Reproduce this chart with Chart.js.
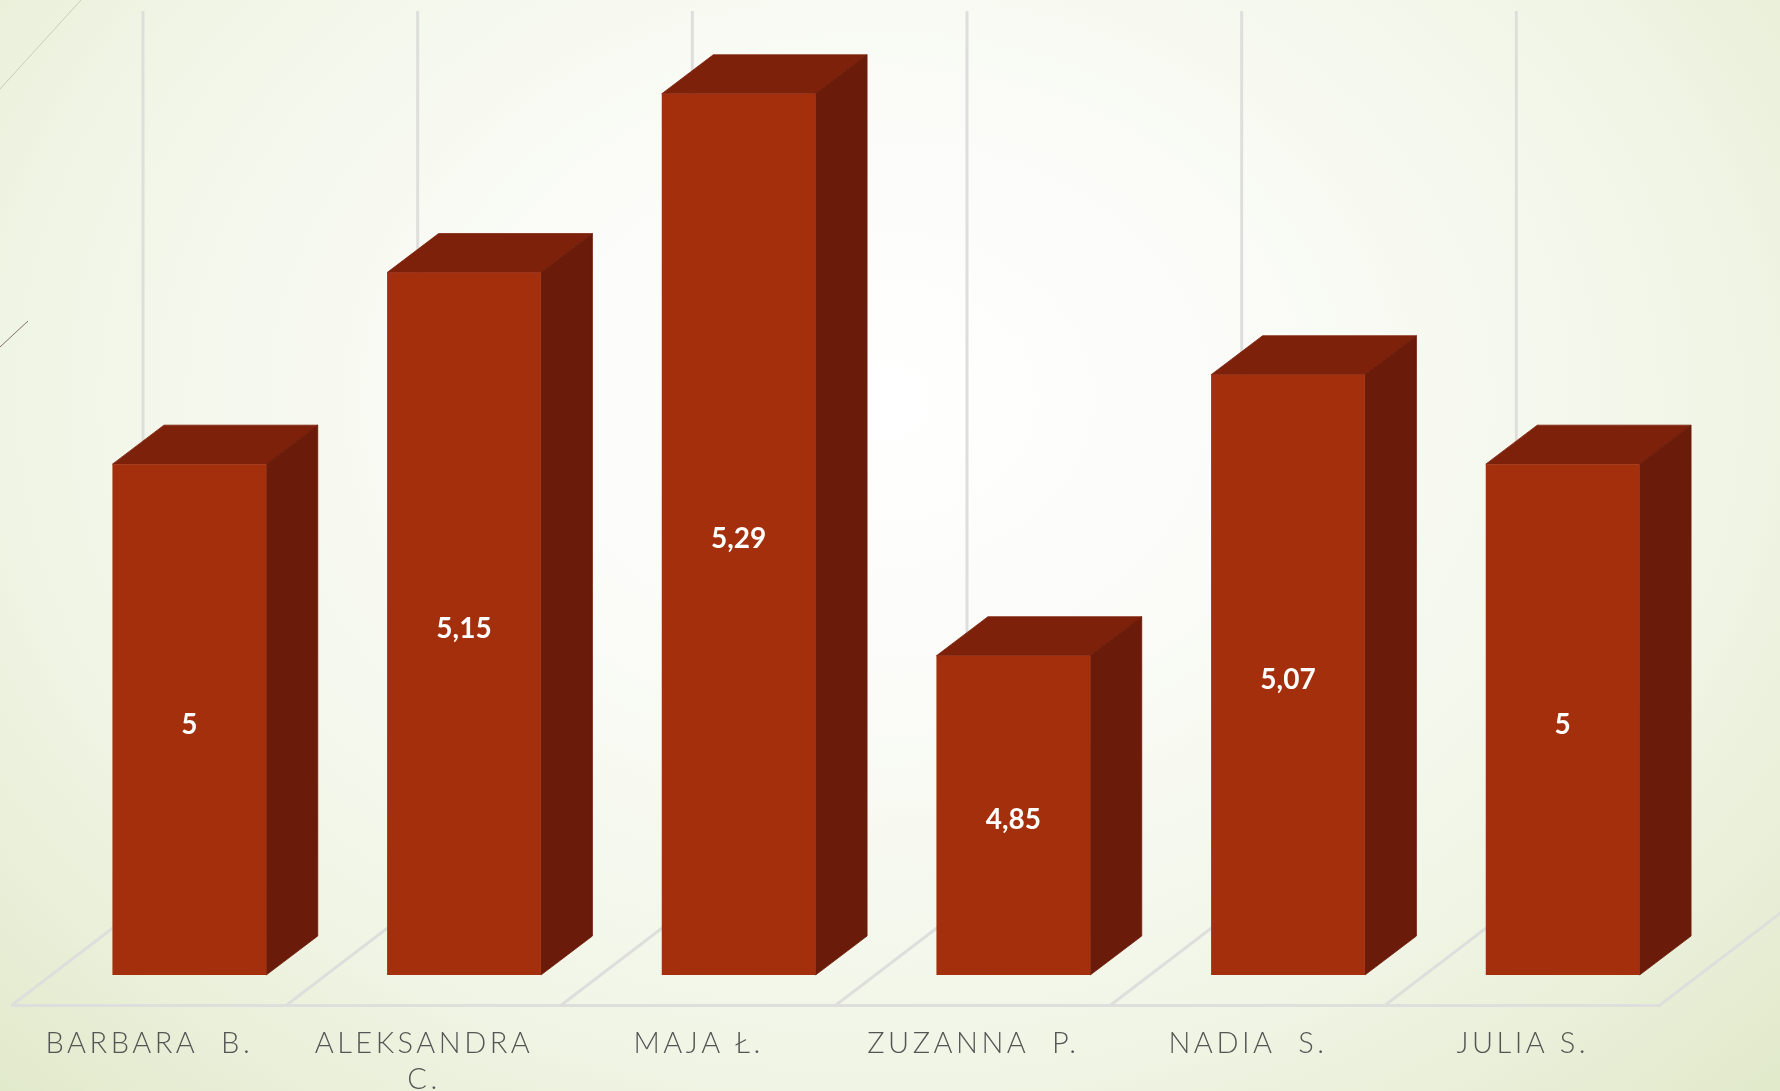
<!DOCTYPE html>
<html>
<head>
<meta charset="utf-8">
<style>
  html, body { margin: 0; padding: 0; width: 1780px; height: 1091px; overflow: hidden; }
  body { background: radial-gradient(ellipse 1240px 970px at 880px 400px, #ffffff 0%, #fbfcf8 30%, #f1f5e6 68%, #e2eacc 100%); }
  canvas { display: block; }
</style>
<script src="https://cdn.jsdelivr.net/npm/chart.js@4"></script>
</head>
<body>
<canvas id="myChart" width="1780" height="1091"></canvas>
<script>
var categories = ['BARBARA  B.', ['ALEKSANDRA', 'C.'], 'MAJA Ł.', 'ZUZANNA  P.', 'NADIA  S.', 'JULIA S.'];
var values = [5, 5.15, 5.29, 4.85, 5.07, 5];
var axisRange = [4.6, 5.3];

// fake 3d: how far the box and the floor run back into the picture
var boxDepth = { x: 51.5, y: 39 };
var frontGap = { x: 40, y: 30 };
var floorDepth = { x: 131, y: 100 };

var gridColor = '#dedfdc';

// closes the hairline seam between two faces
function fillFace(ctx, color) {
  ctx.fillStyle = color;
  ctx.strokeStyle = color;
  ctx.lineWidth = 0.8;
  ctx.fill();
  ctx.stroke();
}

var fake3d = {
  id: 'fake3d',
  beforeDraw: function(chart) {
    var ctx = chart.ctx;
    ctx.letterSpacing = '3.5px';

    // the two thin corner lines from the slide background
    ctx.save();
    ctx.lineWidth = 1;
    ctx.strokeStyle = '#cbcbb6';
    ctx.beginPath(); ctx.moveTo(0, 89); ctx.lineTo(81, 0); ctx.stroke();
    ctx.strokeStyle = '#7d7360';
    ctx.beginPath(); ctx.moveTo(0, 347); ctx.lineTo(28, 321); ctx.stroke();
    ctx.restore();
  },
  beforeDatasetsDraw: function(chart) {
    var ctx = chart.ctx;
    var x = chart.scales.x, y = chart.scales.y;
    var band = x.width / categories.length;
    ctx.letterSpacing = '0px';

    ctx.save();
    ctx.strokeStyle = gridColor;
    ctx.lineWidth = 3;
    for (var i = 0; i <= categories.length; i++) {
      var px = x.left + i * band;
      ctx.beginPath();
      ctx.moveTo(px, y.bottom);
      ctx.lineTo(px + floorDepth.x, y.bottom - floorDepth.y);
      ctx.lineTo(px + floorDepth.x, y.top - floorDepth.y);
      ctx.stroke();
    }
    ctx.restore();

    // bars sit part way back on the floor, library draws the front face after this
    ctx.save();
    ctx.translate(frontGap.x, -frontGap.y);
    chart.getDatasetMeta(0).data.forEach(function(bar) {
      var l = bar.x - bar.width / 2, r = bar.x + bar.width / 2;
      ctx.beginPath();
      ctx.moveTo(l, bar.y);
      ctx.lineTo(l + boxDepth.x, bar.y - boxDepth.y);
      ctx.lineTo(r + boxDepth.x, bar.y - boxDepth.y);
      ctx.lineTo(r, bar.y);
      ctx.closePath();
      fillFace(ctx, '#7e210b');
      ctx.beginPath();
      ctx.moveTo(r, bar.y);
      ctx.lineTo(r + boxDepth.x, bar.y - boxDepth.y);
      ctx.lineTo(r + boxDepth.x, bar.base - boxDepth.y);
      ctx.lineTo(r, bar.base);
      ctx.closePath();
      fillFace(ctx, '#6a1b09');
    });
  },
  afterDatasetsDraw: function(chart) {
    var ctx = chart.ctx;
    ctx.restore();

    ctx.save();
    ctx.fillStyle = '#ffffff';
    ctx.font = 'bold 28px Lato';
    ctx.textAlign = 'center';
    ctx.textBaseline = 'middle';
    chart.getDatasetMeta(0).data.forEach(function(bar, i) {
      var label = String(values[i]).replace('.', ',');
      ctx.fillText(label, bar.x + frontGap.x, (bar.y + bar.base) / 2 - frontGap.y + 5);
    });
    ctx.restore();
  }
};

var ctx = document.getElementById('myChart').getContext('2d');
var myChart = new Chart(ctx, {
  type: 'bar',
  data: {
    labels: categories,
    datasets: [{
      data: values,
      base: axisRange[0],
      backgroundColor: '#a42f0d',
      borderWidth: 0,
      barPercentage: 0.56,
      categoryPercentage: 1
    }]
  },
  options: {
    responsive: false,
    animation: false,
    layout: { padding: { left: 12, right: 120, top: 111, bottom: 0 } },
    plugins: { legend: { display: false }, tooltip: { enabled: false } },
    scales: {
      x: {
        grid: { display: false, drawTicks: false },
        border: { display: true, color: gridColor, width: 3 },
        afterFit: function(scale) { scale.height = 86; },
        ticks: {
          autoSkip: false,
          maxRotation: 0,
          padding: 21,
          color: '#555555',
          font: { family: 'Lato', size: 29, weight: 300, lineHeight: 1.24 }
        }
      },
      y: {
        display: false,
        min: axisRange[0],
        max: axisRange[1]
      }
    }
  },
  plugins: [fake3d]
});
</script>
</body>
</html>
